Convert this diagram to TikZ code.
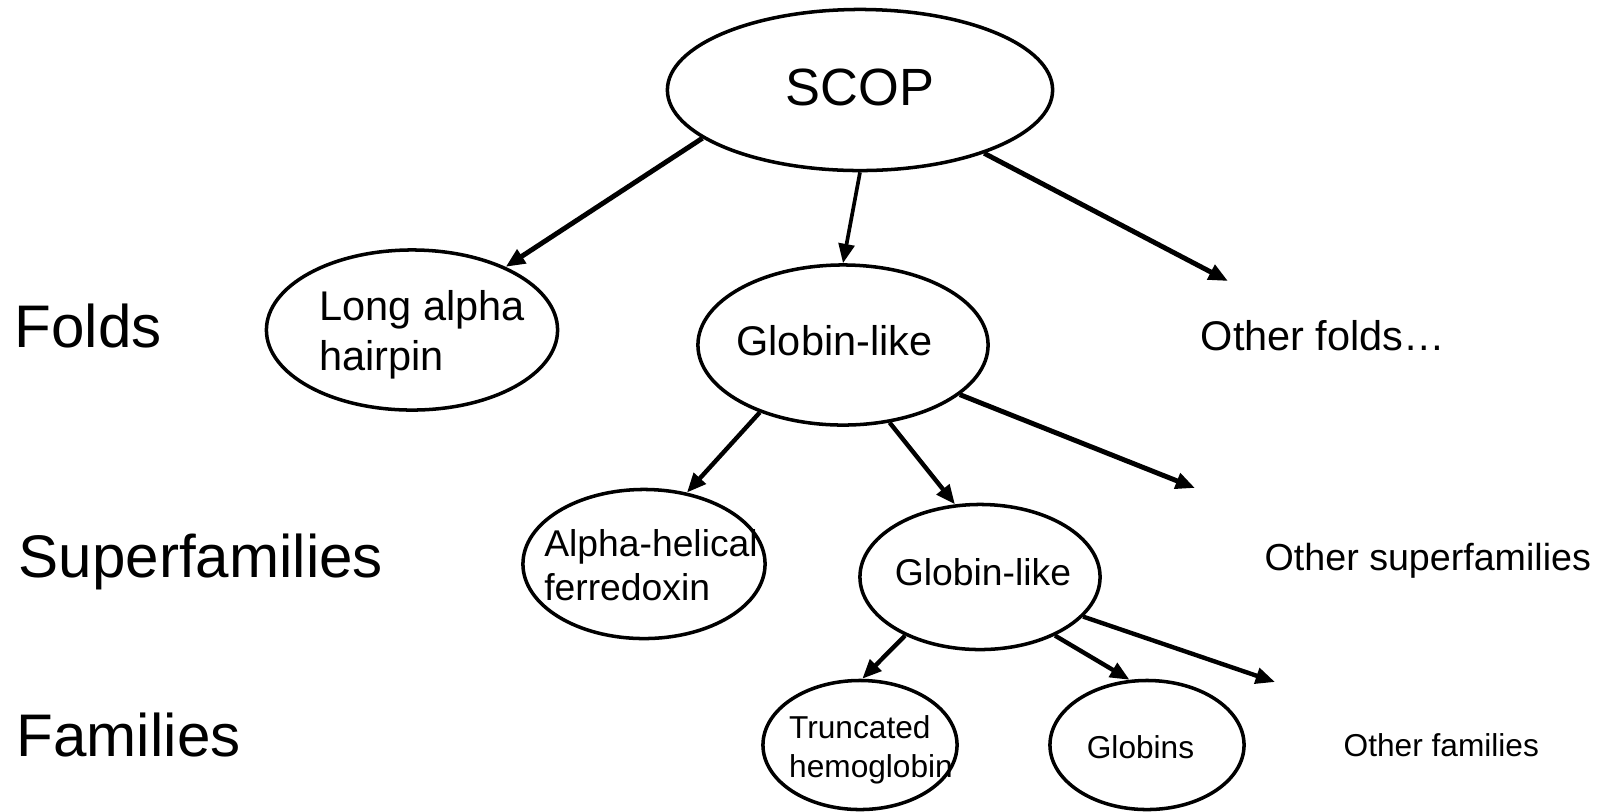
\documentclass[tikz,border=0pt]{standalone}
\usepackage{fontspec}
\setmainfont{Liberation Sans}
\usetikzlibrary{arrows.meta, shapes.geometric}

\begin{document}
\begin{tikzpicture}[x=0.01cm, y=-0.01cm,
  blob/.style = {shape=ellipse, draw, line width=1pt, inner sep=0pt},
  inner/.style = {inner sep=0pt, align=left},
  txt/.style = {inner sep=0pt, anchor=base west},
  level/.style = {txt, font=\fontsize{17.1}{20.5}\selectfont},
  foldFont/.style = {font=\fontsize{11.8}{14.2}\selectfont},
  superFont/.style = {font=\fontsize{10.6}{12.7}\selectfont},
  familyFont/.style = {font=\fontsize{9}{11.1}\selectfont},
  link/.style = {-{Triangle[length=5.5pt, width=4.5pt]}, line width=1.25pt},
  thickLink/.style = {link, line width=1.4pt},
]
\useasboundingbox (0,0) rectangle (1600,811);

\node[blob, minimum width=3.85cm, minimum height=1.61cm, label={[inner, font=\fontsize{14.9}{18}\selectfont, yshift=0.3mm]center:SCOP}] (scop) at (860,90) {};

\node[blob, minimum width=2.91cm, minimum height=1.60cm, label={[inner, foldFont, xshift=1mm, yshift=-0.5mm]center:{Long alpha\\hairpin}}] (longAlpha) at (412,330) {};
\node[blob, minimum width=2.90cm, minimum height=1.60cm, label={[inner, foldFont, xshift=-0.85mm, yshift=0.4mm]center:Globin-like}] (globinFold) at (843,345) {};
\node[txt, foldFont] (otherFolds) at (1200,350) {Other folds…};

\node[blob, minimum width=2.42cm, minimum height=1.49cm, label={[inner, superFont, xshift=0.7mm, yshift=-0.1mm]center:{Alpha-helical\\ferredoxin}}] (alphaHelical) at (644,564) {};
\node[blob, minimum width=2.40cm, minimum height=1.45cm, label={[inner, superFont, xshift=0.3mm, yshift=0.5mm]center:Globin-like}] (globinSuper) at (980,577) {};
\node[txt, font=\fontsize{10.7}{13}\selectfont] (otherSuper) at (1264,570) {Other superfamilies};

\node[blob, minimum width=1.94cm, minimum height=1.29cm, label={[inner, familyFont, xshift=1.1mm, yshift=-0.45mm]center:{Truncated\\hemoglobin}}] (truncated) at (860,745) {};
\node[blob, minimum width=1.94cm, minimum height=1.29cm, label={[inner, familyFont, xshift=-0.65mm, yshift=-0.2mm]center:Globins}] (globins) at (1147,745) {};
\node[txt, familyFont] (otherFamilies) at (1343,756) {Other families};

\node[level] (foldsLevel) at (14,347) {Folds};
\node[level] (superLevel) at (18,577) {Superfamilies};
\node[level] (familyLevel) at (16,756) {Families};

\coordinate (otherFoldsTip) at (1228,281);
\coordinate (otherSuperTip) at (1195,488);
\coordinate (otherFamiliesTip) at (1275,682);

\draw[thickLink] (scop.197) -- (longAlpha.34);
\draw[link, line width=1.05pt] (scop.south) -- (globinFold.north);
\draw[thickLink] (scop.333) -- (otherFoldsTip);
\draw[link] (globinFold.219) -- (alphaHelical.59);
\draw[link] (globinFold.301) -- (globinSuper.109);
\draw[thickLink] (globinFold.337) -- (otherSuperTip);
\draw[link] (globinSuper.218) -- (truncated.88);
\draw[link] (globinSuper.322) -- (globins.105);
\draw[link] (globinSuper.339) -- (otherFamiliesTip);
\end{tikzpicture}
\end{document}
